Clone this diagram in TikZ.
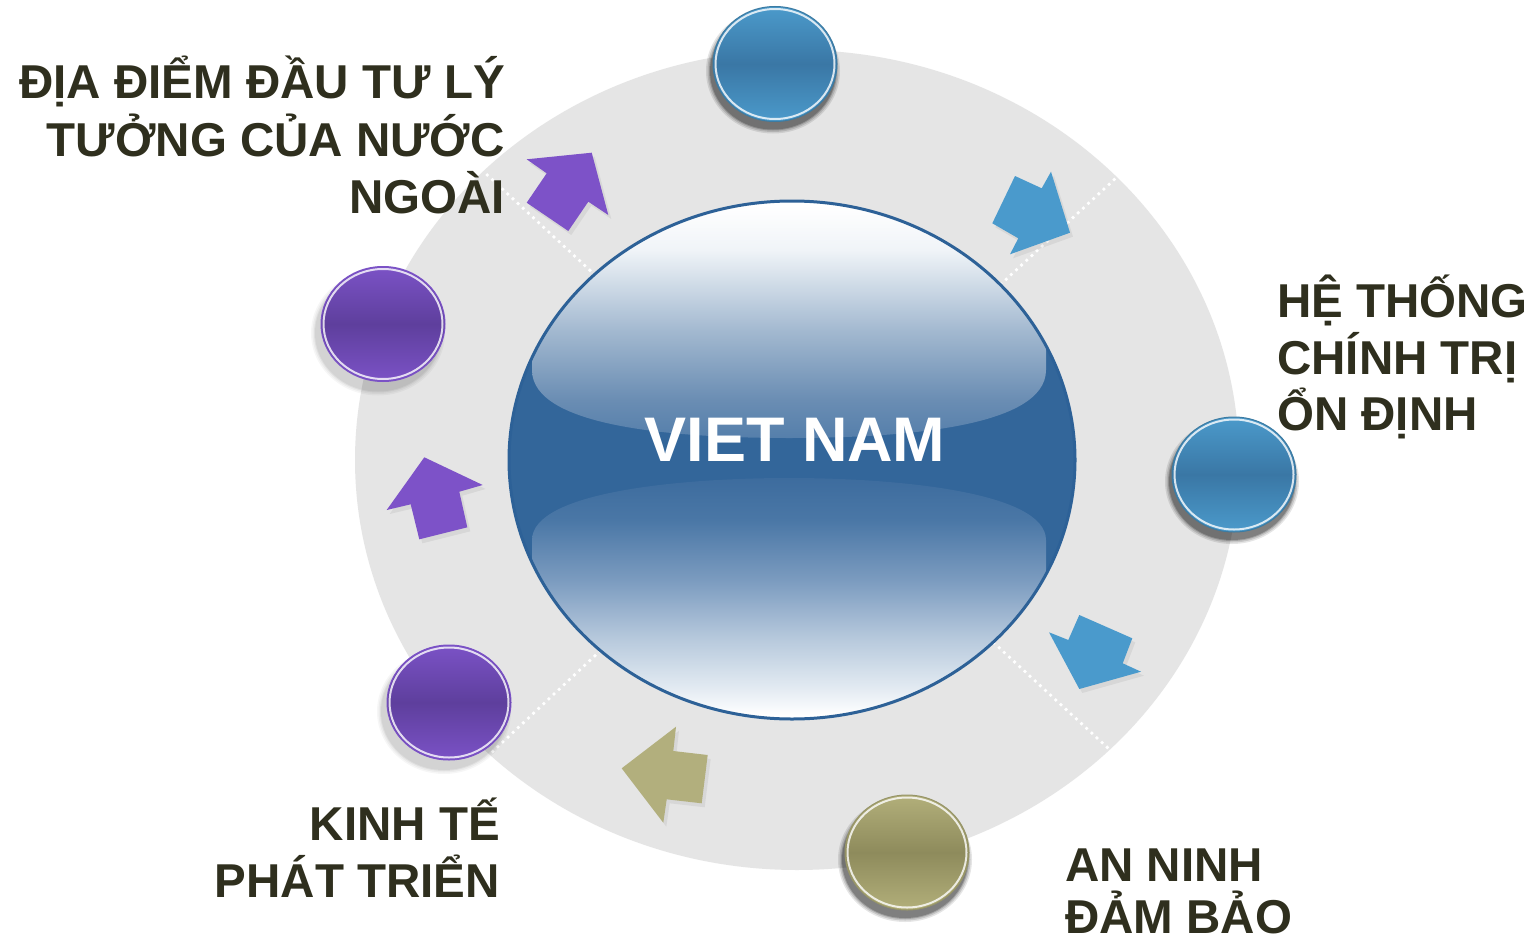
\documentclass[tikz,border=0pt]{standalone}
\usepackage{fontspec}
\setmainfont{Liberation Sans}
\usetikzlibrary{calc}

\definecolor{ring}{HTML}{E5E5E5}
\definecolor{txt}{HTML}{2F2F1E}
\definecolor{vnblue}{HTML}{33669A}
\definecolor{vnedge}{HTML}{2D6197}
\definecolor{purA}{HTML}{7D52C8}
\definecolor{bluA}{HTML}{4A9ACC}
\definecolor{oliA}{HTML}{B2AF7D}
% ball colours
\definecolor{bb1}{HTML}{4B9ACB}\definecolor{bb2}{HTML}{3A77A5}
\definecolor{ob1}{HTML}{B2AF7A}\definecolor{ob2}{HTML}{8E8B5C}
\definecolor{pb1}{HTML}{7B52C6}\definecolor{pb2}{HTML}{5E3F9D}
% highlight colours
\definecolor{hu1}{HTML}{557FAB}\definecolor{hu2}{HTML}{6A8DB3}
\definecolor{hu3}{HTML}{A3B9D0}\definecolor{hu4}{HTML}{F0F4F8}
\definecolor{hd1}{HTML}{E5ECF3}\definecolor{hd2}{HTML}{B8CADD}
\definecolor{hd3}{HTML}{7B9BBF}\definecolor{hd4}{HTML}{4A77A6}
\definecolor{hd5}{HTML}{3D6C9E}

\pgfdeclareverticalshading{ballblue}{100bp}{color(0bp)=(bb1); color(25bp)=(bb1); color(50bp)=(bb2); color(75bp)=(bb1); color(100bp)=(bb1)}
\pgfdeclareverticalshading{ballolive}{100bp}{color(0bp)=(ob1); color(25bp)=(ob1); color(50bp)=(ob2); color(75bp)=(ob1); color(100bp)=(ob1)}
\pgfdeclareverticalshading{ballpurple}{100bp}{color(0bp)=(pb1); color(25bp)=(pb1); color(50bp)=(pb2); color(75bp)=(pb1); color(100bp)=(pb1)}
\pgfdeclareverticalshading{hlup}{100bp}{color(0bp)=(hu1); color(25bp)=(hu1); color(32.8bp)=(hu2); color(47.2bp)=(hu3); color(63.7bp)=(hu4); color(73bp)=(white); color(100bp)=(white)}
\pgfdeclareverticalshading{hldown}{100bp}{color(0bp)=(white); color(27bp)=(white); color(32bp)=(hd1); color(42.2bp)=(hd2); color(54.4bp)=(hd3); color(66.5bp)=(hd4); color(75bp)=(hd5); color(100bp)=(hd5)}

\tikzset{
  lbl/.style={font=\fontsize{47.5}{57}\selectfont\bfseries, text=txt, inner sep=0pt},
  dotline/.style={white, line width=3.8pt, line cap=round, dash pattern=on 0pt off 7pt},
  arrshadow/.style={black, opacity=0.06, shift={(3,4)}},
}

% glass ball: #1 centre, #2 shading, #3 rim, #4 border, #5 shadow type (d/l)
\newcommand{\glassball}[5]{%
  \ifx d#5
    \foreach \k/\o in {10/0.10,7/0.13,4/0.18,2/0.22}{
      \fill[black, opacity=\o] ($#1+(-2,7)$) ellipse [x radius=62+\k*0.5, y radius=57.5+\k*0.5];}
  \else
    \foreach \k/\o in {10/0.035,7/0.04,4/0.05,2/0.05}{
      \fill[black, opacity=\o] ($#1+(-5,9)$) ellipse [x radius=62+\k*0.5, y radius=57.5+\k*0.5];}
  \fi
  \shade[shading=#2] #1 ellipse [x radius=62, y radius=57.5];
  \draw[#3, line width=2pt, opacity=0.8] #1 ellipse [x radius=59.5, y radius=55];
  \draw[#4, line width=1pt] #1 ellipse [x radius=62, y radius=57.5];
}

\begin{document}
\begin{tikzpicture}[x=1pt, y=-1pt]
\useasboundingbox (0,0) rectangle (1536,942);
\fill[white] (0,0) rectangle (1536,942);

% grey ring
\fill[ring] (797,460) ellipse [x radius=442, y radius=410];

% dotted separators
\coordinate (s1a) at (595,275); \coordinate (s1b) at (483,171);
\coordinate (s2a) at (1001,284); \coordinate (s2b) at (1117,177);
\coordinate (s3a) at (994,643); \coordinate (s3b) at (1109,749);
\coordinate (s4a) at (600,651); \coordinate (s4b) at (490,754);
\draw[dotline] (s1a) -- (s1b);
\draw[dotline] (s2a) -- (s2b);
\draw[dotline] (s3a) -- (s3b);
\draw[dotline] (s4a) -- (s4b);

% arrows
\def\pA{(526.7,159.3) -- (591.7,152.7) -- (608.3,215) -- (588.3,201.7) -- (568.3,231) -- (526.7,202.7) -- (546.7,173.3) -- cycle}
\def\bA{(1015,176) -- (1041.7,188.3) -- (1051,171.7) -- (1070,232.7) -- (1010,254.3) -- (1018.3,238.3) -- (992.3,223.3) -- cycle}
\def\bB{(1079.3,615) -- (1132.3,638.3) -- (1122.7,663.3) -- (1141,671.7) -- (1079.3,689) -- (1049,632.3) -- (1068.3,640) -- cycle}
\def\oA{(676,726.7) -- (673.3,751) -- (707.7,755) -- (701.7,803.3) -- (666.7,799.3) -- (663.3,822.7) -- (621.7,768.3) -- cycle}
\def\pB{(424.3,457.3) -- (482.7,485) -- (459.3,491.7) -- (467.3,527.3) -- (419.3,539.3) -- (410.7,504.3) -- (386.7,510) -- cycle}
\foreach \p in {\pA,\bA,\bB,\oA,\pB}{\fill[arrshadow] \p;}
\fill[purA] \pA;
\fill[bluA] \bA;
\fill[bluA] \bB;
\fill[oliA] \oA;
\fill[purA] \pB;

% central glass ellipse
\begin{scope}
  \clip (792,460) ellipse [x radius=283, y radius=259];
  \fill[vnblue] (500,190) rectangle (1080,730);
  \shade[shading=hlup] (532,195) -- (532,370) .. controls (532,428) and (680,438) .. (789,438) .. controls (898,438) and (1046,428) .. (1046,370) -- (1046,195) -- cycle;
  \shade[shading=hldown] (532,540) .. controls (532,492) and (680,478) .. (789,478) .. controls (898,478) and (1046,492) .. (1046,540) -- (1046,725) -- (532,725) -- cycle;
\end{scope}
\draw[vnedge, line width=3pt] (792,460) ellipse [x radius=283, y radius=259];
\node[font=\fontsize{63}{70}\selectfont\bfseries, text=white, inner sep=0pt, anchor=base] (vn) at (795,461) {VIET NAM};

% balls
\glassball{(775,64)}{ballblue}{white}{bb1!80!black}{d}
\glassball{(1234,474.5)}{ballblue}{white}{bb1!80!black}{d}
\glassball{(907,852.5)}{ballolive}{white}{ob1!85!black}{d}
\glassball{(449,702.5)}{ballpurple}{white}{pb1}{l}
\glassball{(383,324)}{ballpurple}{white}{pb1}{l}
\coordinate (b1) at (775,64);
\coordinate (b2) at (1234,474.5);
\coordinate (b3) at (907,852.5);
\coordinate (b4) at (449,702.5);
\coordinate (b5) at (383,324);

% labels
\node[lbl, anchor=base east] (t1a) at (505,99) {ĐỊA ĐIỂM ĐẦU TƯ LÝ};
\node[lbl, anchor=base east] (t1b) at (505,156) {TƯỞNG CỦA NƯỚC};
\node[lbl, anchor=base east] (t1c) at (505,213) {NGOÀI};
\node[lbl, anchor=base west] (t2a) at (1277,317) {HỆ THỐNG};
\node[lbl, anchor=base west] (t2b) at (1277,374) {CHÍNH TRỊ};
\node[lbl, anchor=base west] (t2c) at (1277,430) {ỔN ĐỊNH};
\node[lbl, anchor=base west] (t3a) at (1065,881) {AN NINH};
\node[lbl, anchor=base west] (t3b) at (1065,933) {ĐẢM BẢO};
\node[lbl, anchor=base east] (t4a) at (500,840) {KINH TẾ};
\node[lbl, anchor=base east] (t4b) at (500,897) {PHÁT TRIỂN};
\end{tikzpicture}
\end{document}
